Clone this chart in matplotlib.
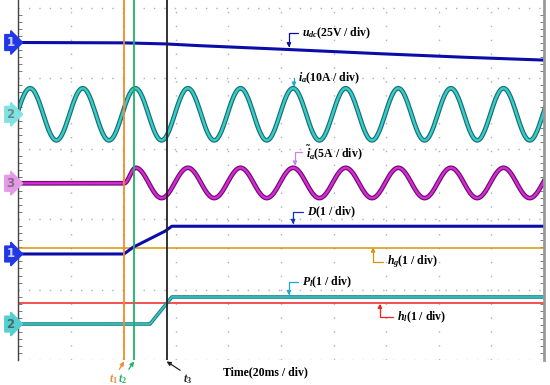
import numpy as np
import matplotlib
matplotlib.use("Agg")
import matplotlib.pyplot as plt
import matplotlib.transforms as mtransforms

plt.rcParams['font.family'] = 'Liberation Serif'
plt.rcParams['font.weight'] = 'bold'
plt.rcParams['mathtext.fontset'] = 'custom'
plt.rcParams['mathtext.it'] = 'Liberation Serif:italic:bold'
plt.rcParams['mathtext.rm'] = 'Liberation Serif:bold'

# time in ms (20 ms / div), vertical position in screen divisions
# channel 1: u_dc
udc_t = [0, 40, 56, 69, 103, 138, 170, 200]
udc_v = [4.51, 4.505, 4.49, 4.465, 4.41, 4.35, 4.30, 4.26]

# channel 2: i_a, extremes (trough / peak)
ia_t = [-5.4, 4.6, 14.6, 24.6, 34.6, 44.6, 54.6, 64.6, 74.6, 84.6, 94.6,
        104.6, 114.6, 124.6, 134.6, 144.6, 154.6, 164.6, 174.6, 184.6, 194.6, 204.6]
ia_v = [3.12, 3.86, 3.12, 3.86, 3.12, 3.86, 3.12, 3.86, 3.12, 3.86, 3.12,
        3.86, 3.12, 3.86, 3.12, 3.86, 3.12, 3.86, 3.12, 3.86, 3.12, 3.86]

# channel 3: filtered i_a, flat before t1
ib_t = [0, 40.3, 44.8, 54.6, 64.6, 74.6, 84.6, 94.6, 104.6, 114.6, 124.6,
        134.6, 144.6, 154.6, 164.6, 174.6, 184.6, 194.6, 204.6]
ib_v = [2.51, 2.51, 2.73, 2.30, 2.73, 2.30, 2.73, 2.30, 2.73, 2.30, 2.73,
        2.30, 2.73, 2.30, 2.73, 2.30, 2.73, 2.30, 2.73]

# D
d_t = [0, 40.3, 43.7, 55.9, 58.5, 200]
d_v = [1.506, 1.506, 1.60, 1.83, 1.90, 1.90]

# P_l
pl_t = [0, 50.2, 58.5, 200]
pl_v = [0.511, 0.511, 0.895, 0.895]

hg_level = 1.59
hl_level = 0.81

cursor_t = [40.3, 44.1, 56.5]
cursor_names = ['$t_1$', '$t_2$', '$t_3$']
cursor_colors = ['#f28a2e', '#1fb462', '#222222']


def smooth(ts, vs):
    # half-cosine segments between the read extremes
    xs, ys = [], []
    for i in range(len(ts) - 1):
        s = np.linspace(0, 1, 30)
        xs.append(ts[i] + (ts[i + 1] - ts[i]) * s)
        ys.append(vs[i] + (vs[i + 1] - vs[i]) * (1 - np.cos(np.pi * s)) / 2)
    return np.concatenate(xs), np.concatenate(ys)


fig = plt.figure(figsize=(5.5, 3.85), dpi=100)
ax = fig.add_axes([18 / 550, 25 / 385, 526 / 550, 360 / 385])
ax.set_xlim(0, 200)
ax.set_ylim(0, 360 / 70.4)

ax.set_xticks(np.arange(0, 201, 20))
ax.set_yticks(np.arange(0, 6, 1))
ax.set_yticks(np.arange(0, 5.1, 0.1), minor=True)
ax.tick_params(axis='both', which='major', length=0, labelleft=False, labelbottom=False)
ax.tick_params(axis='y', which='minor', direction='in', length=3, left=True, right=True,
               color='#666666', width=0.6)
ax.tick_params(axis='x', which='minor', length=0)
ax.grid(axis='x', color='#b0b0b0', linestyle=(0, (1, 9)), linewidth=1)
ax.grid(axis='y', color='#b0b0b0', linestyle=(0, (1, 6.5)), linewidth=1)
ax.spines['top'].set_visible(False)
ax.spines['bottom'].set_visible(False)
ax.spines['left'].set_color('#444444')
ax.spines['left'].set_linewidth(1)
ax.spines['right'].set_color('#999999')
ax.spines['right'].set_linewidth(2)

# reference levels
ax.axhline(hg_level, color='#d4940a', lw=1.1)
ax.axhline(hl_level, color='#f02020', lw=1.1)

# traces
ax.plot(udc_t, udc_v, color='#0c0ca8', lw=2.2)
x, y = smooth(ia_t, ia_v)
ax.plot(x, y, color='#1a6e6e', lw=3.4)
ax.plot(x, y, color='#36cccc', lw=1.7)
x, y = smooth(ib_t, ib_v)
ax.plot(x, y, color='#6a106a', lw=3.4)
ax.plot(x, y, color='#d82ad8', lw=1.7)
ax.plot(d_t, d_v, color='#0c0ca8', lw=2.2)
ax.plot(pl_t, pl_v, color='#1a8080', lw=2.6)
ax.plot(pl_t, pl_v, color='#36c4c4', lw=1.2)

# cursors
for t, c in zip(cursor_t, cursor_colors):
    ax.axvline(t, color=c, lw=1.3)

# channel tags on the left
trans = mtransforms.blended_transform_factory(ax.transAxes, ax.transData)
tags = [('1', 4.51, '#2038e6', '#d0d0ff'), ('2', 3.49, '#7fe3e3', '#6a8a8a'),
        ('3', 2.51, '#e59ae5', '#8a6a8a'), ('1', 1.506, '#2038e6', '#d0d0ff'),
        ('2', 0.511, '#54d0d0', '#4a6a6a')]
for num, yv, fc, tc in tags:
    ax.text(-0.007, yv, num, transform=trans, ha='right', va='center', fontsize=8.5,
            family='DejaVu Sans', color=tc, clip_on=False,
            bbox=dict(boxstyle='rarrow,pad=0.12', fc=fc, ec=fc))

# labels with leader arrows
labels = [
    ('$u_{dc}$(25V / div)', 108.0, 4.645, 103.0, 4.44, '#0c0ca8'),
    ('$i_a$(10A / div)', 106.5, 4.006, 104.9, 3.88, '#1ea8d0'),
    (r'$\tilde{i}_a$(5A / div)', 109.5, 2.95, 105.3, 2.76, '#c485f0'),
    ('$D$(1 / div)', 109.9, 2.10, 104.6, 1.93, '#1030d0'),
    ('$h_g$(1 / div)', 140.3, 1.39, 135.0, 1.60, '#d4940a'),
    ('$P_l$(1 / div)', 108.0, 1.108, 103.0, 0.92, '#1ea8d0'),
    ('$h_l$(1 / div)', 144.1, 0.61, 137.6, 0.80, '#f02020'),
]
for txt, lx, ly, tx, ty, c in labels:
    ax.annotate(txt, xy=(tx, ty), xytext=(lx, ly), ha='left', va='center', fontsize=8.5,
                color='black', annotation_clip=False,
                arrowprops=dict(arrowstyle='-|>', color=c, lw=0.9, mutation_scale=6,
                                shrinkA=1, shrinkB=0, relpos=(0, 0.5),
                                connectionstyle='angle,angleA=180,angleB=90,rad=0'))

ax.text(77.9, -0.17, 'Time(20ms / div)', ha='left', va='center', fontsize=8.5,
        clip_on=False)

# cursor names below the screen
name_pos = [(34.5, -0.27, (1, 1)), (38.0, -0.27, (1, 1)), (62.7, -0.27, (0, 1))]
for t, name, c, (nx, ny, rp) in zip(cursor_t, cursor_names, cursor_colors, name_pos):
    ax.annotate(name, xy=(t, -0.02), xytext=(nx, ny), ha='left', va='center',
                fontsize=8.5, color=c, annotation_clip=False,
                arrowprops=dict(arrowstyle='-|>', color=c, lw=0.9, mutation_scale=6,
                                shrinkA=0, shrinkB=0, relpos=rp))

fig.savefig('out.png', dpi=100)
